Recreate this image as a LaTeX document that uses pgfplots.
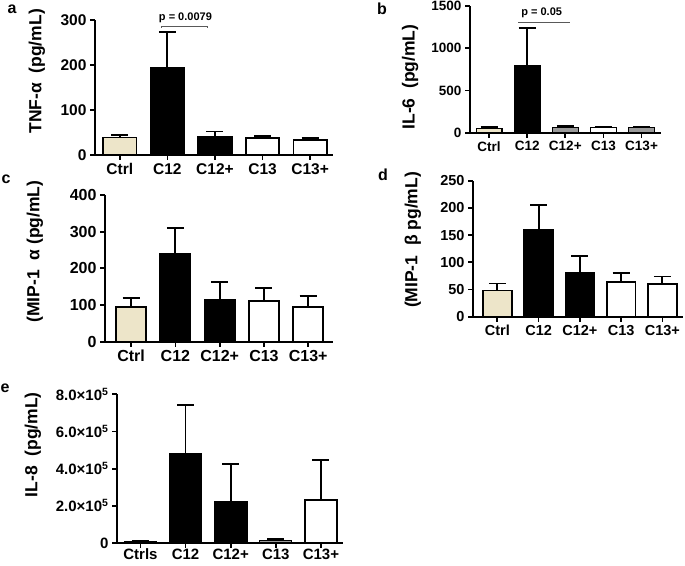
\documentclass[border=0pt]{standalone}
\usepackage{pgfplots}
\pgfplotsset{compat=1.18}
\usepackage{fontspec}
\setmainfont{Liberation Sans}
\definecolor{beige}{HTML}{EDE5C9}
\definecolor{gbar}{HTML}{9A9A9A}
\newcommand{\wsp}{\hspace{0.55em}}
\pgfplotsset{
  panel/.style={
    scale only axis,
    axis lines=left,
    axis line style={line width=1.7pt,-},
    ybar, bar shift=0pt,
    xtick={0,...,4},
    xticklabels={Ctrl,C12,C12+,C13,C13+},
    tick style={line width=1.7pt,black},
    tick align=outside,
    major tick length=5pt,
    ymin=0,
    clip=false,
    /pgf/number format/assume math mode=true,
    /pgf/number format/1000 sep={},
    ticklabel style={font=\bfseries\fontsize{15.5}{15.5}\selectfont},
    ylabel style={font=\bfseries\fontsize{17.5}{17.5}\selectfont, anchor=center},
    every axis plot/.append style={draw=black, line width=1.8pt,
      error bars/y dir=plus, error bars/y explicit,
      error bars/error bar style={line width=1.8pt,black},
      error bars/error mark options={rotate=90, mark size=8.5pt, line width=1.8pt, black}},
  },
  thinbars/.style={every axis plot/.append style={line width=1.2pt}},
}
\begin{document}
\begin{tikzpicture}
\path[use as bounding box] (0pt,0pt) rectangle (685pt,565pt);
% panel a
\begin{axis}[panel, at={(95pt,410pt)}, anchor=south west,
  width=238pt, height=135pt, xmin=-0.52, xmax=4.48, bar width=0.7,
  ymax=300, ytick={0,100,200,300},
  ylabel={TNF-α\wsp(pg/mL)}, ylabel style={at={(axis description cs:-0.244,0.62)}}]
\addplot[fill=beige] coordinates {(0,39) +- (0,6)};
\addplot[fill=black] coordinates {(1,193) +- (0,81)};
\addplot[fill=black] coordinates {(2,41) +- (0,11)};
\addplot[fill=white] coordinates {(3,37) +- (0,6)};
\addplot[fill=white] coordinates {(4,33) +- (0,5)};
\draw[line width=0.6pt, gray!70!black] (axis cs:0.87,283) -- (axis cs:0.87,287) -- (axis cs:1.83,287) -- (axis cs:1.83,283);
\node[font=\bfseries\fontsize{11}{11}\selectfont] at (axis cs:1.38,305) {p = 0.0079};
\end{axis}
% panel b
\begin{axis}[panel, thinbars, at={(470pt,432.3pt)}, anchor=south west,
  width=191pt, height=126.7pt, xmin=-0.5, xmax=4.51, bar width=0.68,
  ymax=1500, ytick={0,500,1000,1500},
  ticklabel style={font=\bfseries\fontsize{13.5}{13.5}\selectfont},
  ylabel={IL-6\wsp(pg/mL)}, ylabel style={at={(axis description cs:-0.314,0.44)}}]
\addplot[fill=beige] coordinates {(0,51) +- (0,12)};
\addplot[fill=black] coordinates {(1,789) +- (0,446)};
\addplot[fill=gbar] coordinates {(2,63) +- (0,20)};
\addplot[fill=white] coordinates {(3,63) +- (0,8)};
\addplot[fill=gbar] coordinates {(4,63) +- (0,8)};
\draw[line width=0.6pt, gray!70!black] (axis cs:0.76,1302) -- (axis cs:2.13,1302);
\node[font=\bfseries\fontsize{11}{11}\selectfont] at (axis cs:1.38,1425) {p = 0.05};
\end{axis}
% panel c
\begin{axis}[panel, at={(105pt,223.3pt)}, anchor=south west,
  width=228pt, height=146.7pt, xmin=-0.59, xmax=4.56, bar width=0.68,
  ymax=400, ytick={0,100,200,300,400},
  ticklabel style={font=\bfseries\fontsize{16}{16}\selectfont},
  ylabel={(MIP-1\wsp α (pg/mL)}, ylabel style={at={(axis description cs:-0.307,0.615)}}]
\addplot[fill=beige] coordinates {(0,94) +- (0,26)};
\addplot[fill=black] coordinates {(1,240) +- (0,69)};
\addplot[fill=black] coordinates {(2,114) +- (0,48)};
\addplot[fill=white] coordinates {(3,110) +- (0,36)};
\addplot[fill=white] coordinates {(4,94) +- (0,31)};
\end{axis}
% panel d
\begin{axis}[panel, at={(473pt,248.3pt)}, anchor=south west,
  width=210pt, height=136pt, xmin=-0.59, xmax=4.5, bar width=0.7,
  ymax=250, ytick={0,50,100,150,200,250},
  ticklabel style={font=\bfseries\fontsize{14.5}{14.5}\selectfont},
  ylabel={(MIP-1\wsp β pg/mL)}, ylabel style={at={(axis description cs:-0.286,0.564)}}]
\addplot[fill=beige] coordinates {(0,48) +- (0,13)};
\addplot[fill=black] coordinates {(1,159) +- (0,47)};
\addplot[fill=black] coordinates {(2,81) +- (0,31)};
\addplot[fill=white] coordinates {(3,64) +- (0,16)};
\addplot[fill=white] coordinates {(4,60) +- (0,14)};
\end{axis}
% panel e
\begin{axis}[panel, at={(117pt,22pt)}, anchor=south west,
  width=226pt, height=148.7pt, xmin=-0.52, xmax=4.49, bar width=0.71,
  ymax=800000, ytick={0,200000,400000,600000,800000},
  scaled y ticks=false,
  ticklabel style={font=\bfseries\fontsize{15}{15}\selectfont},
  xticklabel style={inner sep=0.5pt},
  yticklabels={0,2.0×10\textsuperscript{5},4.0×10\textsuperscript{5},6.0×10\textsuperscript{5},8.0×10\textsuperscript{5}},
  xticklabels={Ctrls,C12,C12+,C13,C13+},
  ylabel={IL-8\wsp(pg/mL)}, ylabel style={at={(axis description cs:-0.372,0.661)}}]
\addplot[fill=beige, line width=1.1pt] coordinates {(0,9000) +- (0,3500)};
\addplot[fill=black] coordinates {(1,479000) +- (0,264000)};
\addplot[fill=black] coordinates {(2,221000) +- (0,205000)};
\addplot[fill=gbar, line width=1.1pt] coordinates {(3,12500) +- (0,10500)};
\addplot[fill=white] coordinates {(4,232000) +- (0,213000)};
\end{axis}
\begin{scope}[every node/.style={font=\bfseries\fontsize{16}{16}\selectfont}]
\node at (12pt,556pt) {a};
\node at (382pt,556pt) {b};
\node at (6pt,386pt) {c};
\node at (383pt,390pt) {d};
\node at (5pt,177pt) {e};
\end{scope}
\end{tikzpicture}
\end{document}
